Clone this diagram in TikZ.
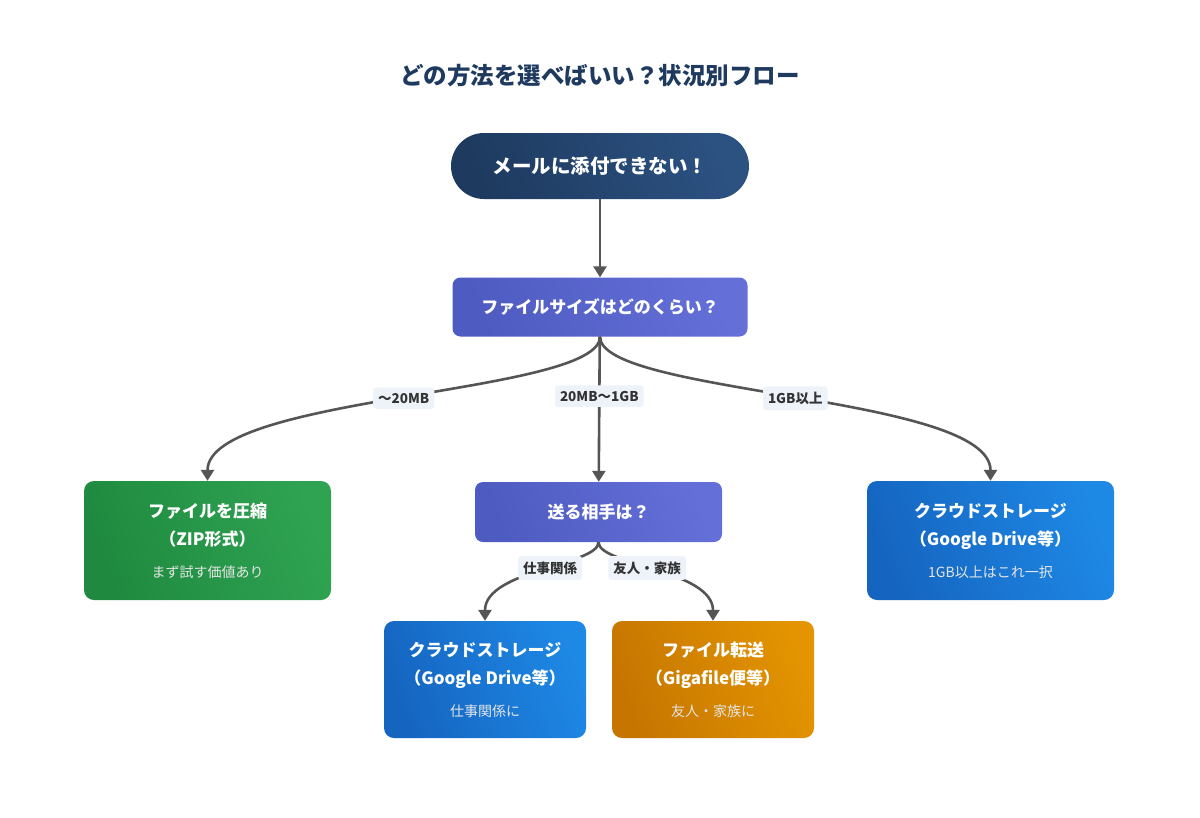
\documentclass[tikz,border=0pt]{standalone}
\usepackage{fontspec}
\setmainfont{Noto Sans CJK JP}
\usetikzlibrary{positioning, arrows.meta}
\definecolor{navy}{HTML}{1E3A5F}
\definecolor{navylight}{HTML}{2C5282}
\definecolor{indigo}{HTML}{4E5BC0}
\definecolor{indigolight}{HTML}{6470D8}
\definecolor{leaf}{HTML}{1F8A3F}
\definecolor{leaflight}{HTML}{2FA352}
\definecolor{sky}{HTML}{1565C0}
\definecolor{skylight}{HTML}{1E88E5}
\definecolor{amber}{HTML}{C67600}
\definecolor{amberlight}{HTML}{E39400}
\definecolor{flowgray}{HTML}{555555}
\definecolor{lblbg}{HTML}{EEF3FA}
\definecolor{lbltext}{HTML}{333333}

\newcommand{\cardtext}[3]{\bfseries #1\\ \bfseries #2\\[4pt]\mdseries\fontsize{14}{18}\selectfont\color{white!90!black} #3}

\tikzset{
  flow/.style={draw=flowgray, line width=2.6pt, -{Triangle[width=13pt,length=11pt]}},
  pill/.style={rounded corners=33pt, minimum width=298pt, minimum height=66pt, text=white,
    left color=navy, right color=navylight, shading angle=110, font=\bfseries\fontsize{19.5}{22}\selectfont},
  question/.style={rounded corners=8pt, minimum width=247pt, minimum height=60pt, text=white,
    left color=indigo, right color=indigolight, shading angle=110, font=\bfseries\fontsize{17}{20}\selectfont},
  card/.style={rounded corners=10pt, minimum width=247pt, minimum height=119pt, text=white,
    align=center, font=\fontsize{17}{28}\selectfont},
  smallcard/.style={card, minimum width=202pt, minimum height=117pt},
  lbl/.style={fill=lblbg, rounded corners=3pt, text=lbltext, inner xsep=5pt, inner ysep=5.5pt,
    font=\bfseries\fontsize{13.5}{16}\selectfont},
}

\begin{document}
\begin{tikzpicture}[x=1pt, y=-1pt]
  \useasboundingbox[fill=white] (0,0) rectangle (1200,817);
  \node[text=navy, font=\bfseries\fontsize{23.5}{26}\selectfont] (title) at (600,76) {どの方法を選べばいい？状況別フロー};
  \node[pill] (start) at (600,166) {メールに添付できない！};
  \node[question, minimum width=295pt, minimum height=59pt] (size) at (600,307) {ファイルサイズはどのくらい？};
  \node[card, left color=leaf, right color=leaflight, shading angle=110] (zip) at (207.5,540.5) {\cardtext{ファイルを圧縮}{（ZIP形式）}{まず試す価値あり}};
  \node[question] (who) at (598.5,512) {送る相手は？};
  \node[card, left color=sky, right color=skylight, shading angle=110] (cloudbig) at (990.5,540.5) {\cardtext{クラウドストレージ}{（Google Drive等）}{1GB以上はこれ一択}};
  \node[smallcard, left color=sky, right color=skylight, shading angle=110] (cloudwork) at (485,679.5) {\cardtext{クラウドストレージ}{（Google Drive等）}{仕事関係に}};
  \node[smallcard, left color=amber, right color=amberlight, shading angle=110] (transfer) at (713,679.5) {\cardtext{ファイル転送}{（Gigafile便等）}{友人・家族に}};

  \draw[flow] (start) -- (size);
  \draw[flow] (size.south) .. controls +(0,58) and +(0,-86) .. node[lbl] (small) {～20MB} (zip.north);
  \draw[flow] (size) -- node[lbl, pos=0.41] (medium) {20MB～1GB} (who);
  \draw[flow] (size.south) .. controls +(0,58) and +(0,-86) .. node[lbl] (large) {1GB以上} (cloudbig.north);
  \draw[flow] (who.south) .. controls +(0,23) and +(0,-51) .. node[lbl, pos=0.45] (work) {仕事関係} (cloudwork.north);
  \draw[flow] (who.south) .. controls +(0,23) and +(0,-51) .. node[lbl, pos=0.45] (private) {友人・家族} (transfer.north);
\end{tikzpicture}
\end{document}
